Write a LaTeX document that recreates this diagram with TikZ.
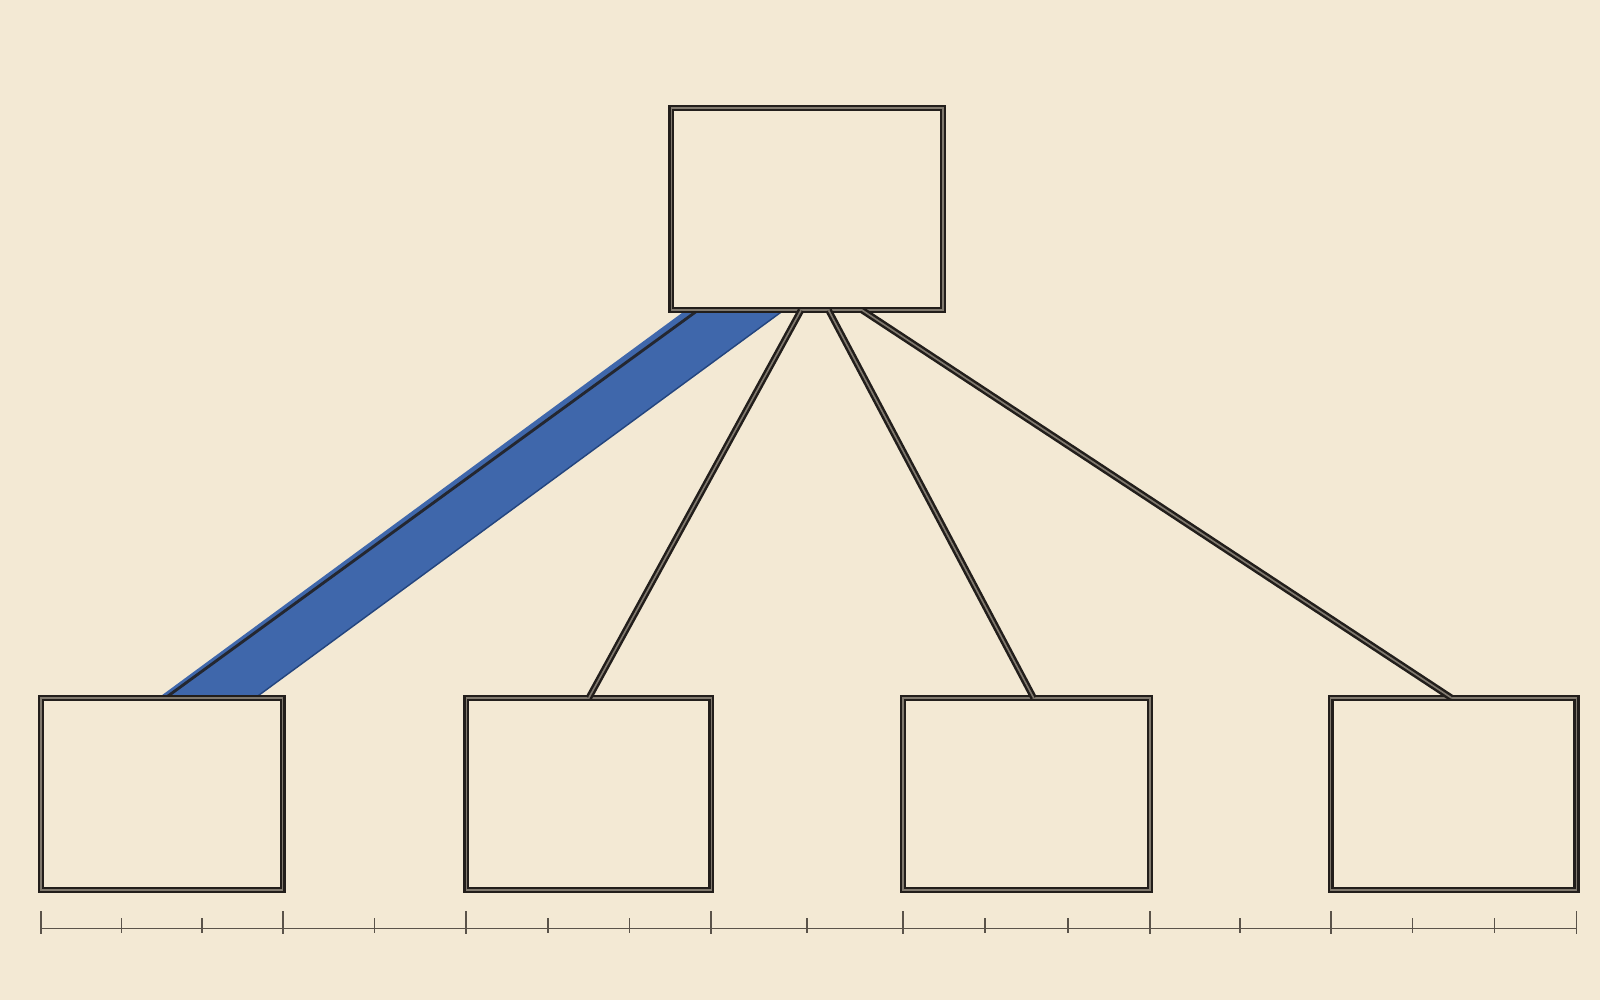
\documentclass[tikz,border=0pt]{standalone}
\usepackage{tikz}
\usetikzlibrary{calc,backgrounds}
\definecolor{paper}{RGB}{243,233,212}
\definecolor{ink}{RGB}{34,30,27}
\definecolor{crayon}{RGB}{48,92,168}
\definecolor{graphite}{RGB}{90,83,74}

\begin{document}
\begin{tikzpicture}[x=0.1mm,y=-0.1mm,
    box/.style={draw=ink,line width=0.65pt,double=ink!55!paper,double distance=0.4pt,
      minimum height=18.8mm,inner sep=0pt,outer sep=0pt},
    link/.style={draw=ink,line width=0.7pt,double=ink!55!paper,double distance=0.45pt},
    rule/.style={draw=graphite,line width=0.5pt}]
  \node[box,minimum width=26.6mm,minimum height=19.8mm](top)at(791,205){};
  \node[box,minimum width=23.7mm](b1)at(158.5,778){};
  \node[box,minimum width=24mm](b2)at(577,778){};
  \node[box,minimum width=24.2mm](b3)at(1006,778){};
  \node[box,minimum width=24.1mm](b4)at(1424.5,778){};
  \begin{scope}[on background layer]
    \fill[paper] (0,0) rectangle (1568,980);
    \fill[crayon,opacity=0.92] ($(top.south)+(-119,0)$) -- ($(top.south)+(-23,0)$)
      -- ($(b1.north)+(91.5,0)$) -- ($(b1.north)+(-3.5,0)$) -- cycle;
    \draw[crayon!75!black,line width=0.4pt] ($(top.south)+(-23,0)$) -- ($(b1.north)+(91.5,0)$);
    \draw[ink!85!crayon,line width=0.8pt] (b1.north) ++(3.5,0) coordinate(bl) -- ($(top.south)+(-107,0)$);
  \end{scope}
  \draw[link] ($(top.south)+(-6,0)$) -- (b2.north);
  \draw[link] ($(top.south)+(21,0)$) -- ($(b3.north)+(7,0)$);
  \draw[link] ($(top.south)+(54,0)$) -- ($(b4.north)+(-2,0)$);
  \coordinate (rl) at ($(b1.south west)+(0,38)$);
  \coordinate (rr) at ($(b4.south east)+(0,38)$);
  \draw[rule] (rl) -- (rr);
  \foreach \n in {b1,b2,b3,b4}{
    \draw[rule] ($(\n.south west)+(0,21)$) -- ++(0,22);
    \draw[rule] ($(\n.south east)+(0,21)$) -- ++(0,22);
    \draw[rule] ($(\n.south west)!1/3!(\n.south east)+(0,28)$) -- ++(0,14);
    \draw[rule] ($(\n.south west)!2/3!(\n.south east)+(0,28)$) -- ++(0,14);
  }
  \foreach \l/\r in {b1/b2,b2/b3,b3/b4}
    \draw[rule] ($(\l.south east)!0.5!(\r.south west)+(0,28)$) -- ++(0,14);
\end{tikzpicture}
\end{document}
